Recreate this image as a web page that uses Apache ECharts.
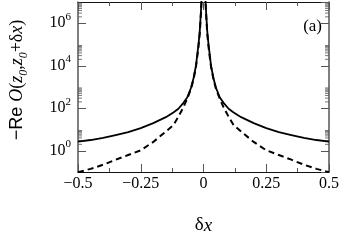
<!DOCTYPE html>
<html>
<head>
<meta charset="utf-8">
<script src="https://cdn.jsdelivr.net/npm/echarts@6/dist/echarts.min.js"></script>
<style>
  html, body { margin: 0; padding: 0; background: #fff; }
  #chart { width: 342px; height: 240px; }
</style>
</head>
<body>
<div id="chart"></div>
<script>
// delta x samples
const dx = [-0.5, -0.45, -0.4, -0.35, -0.3, -0.25, -0.2, -0.15, -0.12, -0.1, -0.08, -0.065, -0.05, -0.04, -0.03, -0.024, -0.02, -0.015, -0.01, -0.007,
            0.007, 0.01, 0.015, 0.02, 0.024, 0.03, 0.04, 0.05, 0.065, 0.08, 0.1, 0.12, 0.15, 0.2, 0.25, 0.3, 0.35, 0.4, 0.45, 0.5];
// solid curve
const solidVals = [2.7, 3.2, 4.0, 5.5, 7.6, 11.7, 20, 38, 63, 95, 180, 320, 900, 2500, 1.0e4, 4.0e4, 1.0e5, 4.0e5, 4.0e6, 2.0e7,
                   2.0e7, 4.0e6, 4.0e5, 1.0e5, 4.0e4, 1.0e4, 2500, 900, 320, 180, 95, 63, 38, 20, 11.7, 7.6, 5.5, 4.0, 3.2, 2.7];
// dashed curve
const dashedVals = [0.098, 0.14, 0.22, 0.38, 0.63, 1.05, 2.6, 8, 16, 40, 110, 280, 800, 2200, 9000, 3.2e4, 8.0e4, 3.2e5, 3.2e6, 1.6e7,
                    1.6e7, 3.2e6, 3.2e5, 8.0e4, 3.2e4, 9000, 2200, 800, 280, 110, 40, 16, 8, 2.6, 1.05, 0.63, 0.38, 0.22, 0.14, 0.098];
// x tick labels
const xTickValues = [-0.5, -0.25, 0, 0.25, 0.5];
const xTickLabels = ['\u22120.5', '\u22120.25', '0', '0.25', '0.5'];
// y tick labels (exponents of 10)
const yTickExps = [0, 2, 4, 6];
// minor y ticks (k * 10^(2n))
const yMinorTicks = [2, 3, 4, 5, 6, 7, 8, 9, 200, 300, 400, 500, 600, 700, 800, 900,
                     2e4, 3e4, 4e4, 5e4, 6e4, 7e4, 8e4, 9e4, 2e6, 3e6, 4e6, 5e6, 6e6, 7e6, 8e6, 9e6];

const chart = echarts.init(document.getElementById('chart'), null, { renderer: 'canvas' });

const xLine = '#111';
const yLine = '#555';
const tickCol = '#555';
const serif = 'Liberation Serif';

const xCommon = {
  type: 'value', min: -0.5, max: 0.5, interval: 0.25,
  axisLine: { show: true, onZero: false, lineStyle: { color: xLine, width: 1 } },
  axisTick: { show: true, inside: true, length: 8, lineStyle: { color: tickCol } },
  minorTick: { show: true, splitNumber: 2, length: 4, lineStyle: { color: tickCol } },
  splitLine: { show: false }
};
const yCommon = {
  type: 'log', logBase: 100, min: 0.1, max: 1e7, splitNumber: 4,
  axisLine: { show: true, onZero: false, lineStyle: { color: yLine, width: 1.5 } },
  axisTick: { show: true, inside: true, length: 8, lineStyle: { color: tickCol } },
  splitLine: { show: false }
};

const minorLeft = yMinorTicks.map(v => [-0.5, v]);
const minorRight = yMinorTicks.map(v => [0.5, v]);

chart.setOption({
  animation: false,
  grid: { left: 65, right: 13, top: 2, bottom: 62 },
  xAxis: [
    Object.assign({}, xCommon, {
      position: 'bottom',
      axisLabel: {
        margin: 4, fontFamily: serif, fontSize: 16, color: '#000',
        formatter: v => {
          const i = xTickValues.findIndex(t => Math.abs(t - v) < 1e-9);
          return i >= 0 ? xTickLabels[i] : '';
        }
      },
      name: '{d|δ}{i|x}', nameLocation: 'middle', nameGap: 44,
      nameTextStyle: {
        rich: {
          d: { fontFamily: serif, fontSize: 19, color: '#000' },
          i: { fontFamily: serif, fontStyle: 'italic', fontSize: 19, color: '#000' }
        }
      }
    }),
    Object.assign({}, xCommon, { position: 'top', axisLabel: { show: false } })
  ],
  yAxis: [
    Object.assign({}, yCommon, {
      position: 'left',
      axisLabel: {
        margin: 7, showMinLabel: false, showMaxLabel: false,
        formatter: v => {
          const e = Math.round(Math.log10(v));
          if (Math.abs(Math.log10(v) - e) > 1e-6 || yTickExps.indexOf(e) < 0) return '';
          return '{b|10}{s|' + e + '}';
        },
        rich: {
          b: { fontFamily: serif, fontSize: 16, color: '#000', lineHeight: 24, verticalAlign: 'middle' },
          s: { fontFamily: serif, fontSize: 11, color: '#000', lineHeight: 12, verticalAlign: 'top' }
        }
      },
      name: '{r|\u2212Re }{i|O}{n|(}{i|z}{sub|0}{n|,}{i|z}{sub|0}{n|+δ}{i|x}{n|)}',
      nameLocation: 'middle', nameGap: 48, nameRotate: 90,
      nameTextStyle: {
        padding: [0, 0, 0, 14],
        rich: {
          r: { fontFamily: 'Liberation Sans', fontSize: 18, color: '#000', lineHeight: 26 },
          n: { fontFamily: serif, fontSize: 18, color: '#000', lineHeight: 26 },
          i: { fontFamily: serif, fontStyle: 'italic', fontSize: 18, color: '#000', lineHeight: 26 },
          sub: { fontFamily: serif, fontStyle: 'italic', fontSize: 12, color: '#000', lineHeight: 12, verticalAlign: 'bottom' }
        }
      }
    }),
    Object.assign({}, yCommon, { position: 'right', axisLabel: { show: false } })
  ],
  graphic: [{
    type: 'text', right: 20, top: 18,
    style: { text: '(a)', fontFamily: serif, fontSize: 17, fill: '#000' }
  }],
  series: [
    {
      type: 'line', data: dx.map((x, i) => [x, solidVals[i]]),
      showSymbol: false, clip: true,
      lineStyle: { color: '#000', width: 1.8 }
    },
    {
      type: 'line', data: dx.map((x, i) => [x, dashedVals[i]]),
      showSymbol: false, clip: true,
      lineStyle: { color: '#000', width: 2, type: [6, 4] }
    },
    {
      type: 'scatter', data: minorLeft, symbol: 'rect', symbolSize: [4, 1], symbolOffset: [2, 0],
      itemStyle: { color: tickCol }, silent: true, clip: false
    },
    {
      type: 'scatter', data: minorRight, symbol: 'rect', symbolSize: [4, 1], symbolOffset: [-2, 0],
      itemStyle: { color: tickCol }, silent: true, clip: false
    }
  ]
});
</script>
</body>
</html>
